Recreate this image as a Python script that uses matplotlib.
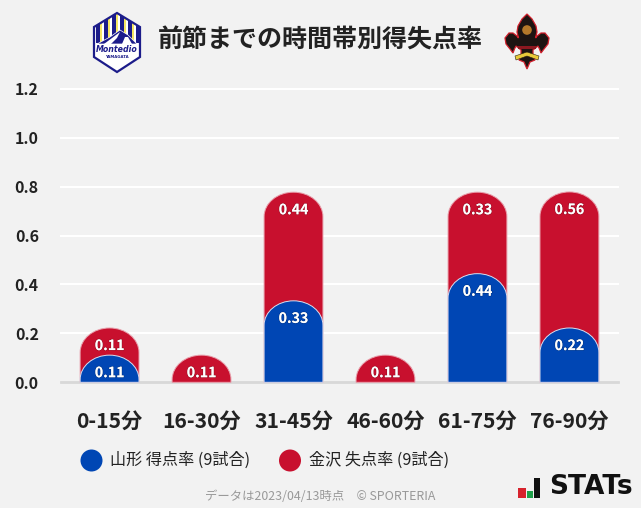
#!/usr/bin/env python3

import matplotlib
matplotlib.use('Agg')
import matplotlib.pyplot as plt
import matplotlib.patheffects as pe
from matplotlib.path import Path
from matplotlib.patches import PathPatch, Polygon, Circle, Rectangle

plt.rcParams['font.family'] = ['Noto Sans CJK JP', 'DejaVu Sans']

periods = ['0-15分', '16-30分', '31-45分', '46-60分', '61-75分', '76-90分']
yamagata_scored = [0.111, 0.0, 0.333, 0.0, 0.444, 0.222]
kanazawa_conceded = [0.111, 0.111, 0.444, 0.111, 0.333, 0.556]
y_ticks = [0.0, 0.2, 0.4, 0.6, 0.8, 1.0, 1.2]

title = '前節までの時間帯別得失点率'
legend_home = '山形 得点率 (9試合)'
legend_away = '金沢 失点率 (9試合)'
footer = 'データは2023/04/13時点\u3000© SPORTERIA'

BG = '#f2f2f2'
BLUE = '#0046b4'
RED = '#c8102e'
TEXT = '#222222'
BAR_WIDTH = 0.64
CAP = 0.10
K = 0.5523


def rounded_bar(ax, x, top, color, zorder, edge):
    # bar with an elliptical cap, in data coords
    l, r = x - BAR_WIDTH / 2, x + BAR_WIDTH / 2
    rx = BAR_WIDTH / 2
    ry = min(CAP, top)
    verts = [(l, 0), (l, top - ry),
             (l, top - ry + K * ry), (x - K * rx, top), (x, top),
             (x + K * rx, top), (r, top - ry + K * ry), (r, top - ry),
             (r, 0), (l, 0)]
    codes = [Path.MOVETO, Path.LINETO,
             Path.CURVE4, Path.CURVE4, Path.CURVE4,
             Path.CURVE4, Path.CURVE4, Path.CURVE4,
             Path.LINETO, Path.CLOSEPOLY]
    ax.add_patch(PathPatch(Path(verts, codes), facecolor=color, edgecolor=edge,
                           linewidth=0.7, zorder=zorder, clip_on=False))


def bar_label(ax, x, top, value):
    t = ax.annotate(f'{value:.2f}', (x, top), xytext=(0, -13), textcoords='offset points',
                    ha='center', va='center', fontsize=10.2, fontweight='bold',
                    color='white', zorder=6)
    t.set_path_effects([pe.withStroke(linewidth=1.0, foreground='#00000030')])


def draw_montedio(ov):
    navy = '#1c1c8a'
    hexagon = [(117, 13), (140, 27), (140, 57), (117, 72), (94, 57), (94, 27)]
    shell = Polygon(hexagon, closed=True, facecolor='white', edgecolor='none')
    ov.add_patch(shell)
    for x in range(96, 138, 8):
        for left, w, color in [(x, 3.6, navy), (x + 3.6, 2, '#f5e663')]:
            r = Rectangle((left, 13), w, 30, facecolor=color, edgecolor='none')
            ov.add_patch(r)
            r.set_clip_path(shell)
    ov.add_patch(Polygon([(97, 44), (110, 37), (120, 30), (128, 35), (137, 44)],
                         closed=True, facecolor=navy, edgecolor='white', linewidth=0.5))
    ov.add_patch(Polygon([(104, 44), (112, 38), (120, 32), (117, 38), (111, 44)],
                         closed=True, facecolor='white', edgecolor='none'))
    ov.add_patch(Polygon([(122, 44), (125, 37), (128, 37), (132, 44)],
                         closed=True, facecolor='white', edgecolor='none'))
    ov.add_patch(Polygon(hexagon, closed=True, facecolor='none', edgecolor=navy, linewidth=1.6))
    ov.text(117, 50, 'Montedio', ha='center', va='center', fontsize=5.7, fontweight='bold',
            fontstyle='italic', color=navy, family='DejaVu Sans')
    ov.text(117, 57, 'YAMAGATA', ha='center', va='center', fontsize=2.8, fontweight='bold',
            color=navy, family='DejaVu Sans')


def draw_fleur(ov):
    cx = 527
    half = [(0, 14), (5, 19), (9, 26), (10, 32), (8.5, 38), (10, 36), (14, 33), (18, 33),
            (22, 38), (21, 44), (17, 49), (14, 53), (12.5, 49), (11, 46), (6, 50), (6, 55), (8, 60),
            (3, 62), (0, 69)]
    right = [(cx + dx, y) for dx, y in half]
    left = [(cx - dx, y) for dx, y in reversed(half[1:-1])]
    ov.add_patch(Polygon(right + left, closed=True, facecolor='#1d1412', edgecolor='#d0202c', linewidth=0.9))
    ov.add_patch(Circle((cx, 30), 4.8, facecolor='#b5782a', edgecolor='none'))
    ov.add_patch(Rectangle((cx - 9, 46), 18, 2.5, facecolor='#8c1820', edgecolor='none'))
    ov.add_patch(Polygon([(515, 56), (527, 52), (539, 56), (538, 60), (527, 56), (516, 60)],
                         closed=True, facecolor='#e8c93a', edgecolor='#2a2010', linewidth=0.4))


def draw_stats(ov):
    ov.add_patch(Rectangle((518, 488), 7.5, 10, facecolor='#d7232d', edgecolor='none'))
    ov.add_patch(Rectangle((527, 491), 5.5, 7, facecolor='#1fa04a', edgecolor='none'))
    ov.add_patch(Rectangle((534, 478), 5.5, 19.5, facecolor='#111111', edgecolor='none'))
    ov.text(549.5, 487.5, 'STATs', ha='left', va='center', fontsize=19, fontweight='bold',
            color='#111111', family='DejaVu Sans')


def main():
    fig = plt.figure(figsize=(6.41, 5.08), dpi=100, facecolor=BG)
    W, H = 641, 508
    ax = fig.add_axes([61 / W, 1 - 382.3 / H, (618 - 61) / W, (382.3 - 88.7) / H], facecolor='none')

    x = list(range(len(periods)))
    for i in x:
        total = yamagata_scored[i] + kanazawa_conceded[i]
        rounded_bar(ax, i, total, RED, 3, '#e8a0ac')
        bar_label(ax, i, total, kanazawa_conceded[i])
        if yamagata_scored[i] > 0:
            rounded_bar(ax, i, yamagata_scored[i], BLUE, 4, '#d8dff0')
            bar_label(ax, i, yamagata_scored[i], yamagata_scored[i])

    ax.set_xlim(-0.528, 5.528)
    ax.set_ylim(0, 1.2)
    ax.set_yticks(y_ticks)
    ax.set_yticklabels([f'{v:.1f}' for v in y_ticks])
    ax.set_xticks(x)
    ax.set_xticklabels(periods)
    ax.tick_params(axis='y', length=0, pad=16, labelsize=11.5, labelcolor=TEXT)
    ax.tick_params(axis='x', length=0, pad=20.5, labelsize=15.2, labelcolor=TEXT)
    for lab in ax.get_yticklabels() + ax.get_xticklabels():
        lab.set_fontweight('bold')
    for s in ax.spines.values():
        s.set_visible(False)
    for v in y_ticks[1:]:
        ax.axhline(v, color='white', linewidth=1.5, zorder=1, clip_on=False)
    ax.axhline(0, color='#d8d8d8', linewidth=2, zorder=2, clip_on=False)

    # header, legend and footer in pixel coords
    ov = fig.add_axes([0, 0, 1, 1], facecolor='none')
    ov.set_xlim(0, W)
    ov.set_ylim(H, 0)
    ov.axis('off')

    ov.text(320.5, 40.5, title, ha='center', va='center', fontsize=18, fontweight='bold', color=TEXT)
    draw_montedio(ov)
    draw_fleur(ov)

    ov.add_patch(Circle((91.5, 460.5), 11, facecolor=BLUE, edgecolor='none'))
    ov.add_patch(Circle((290, 460.5), 11, facecolor=RED, edgecolor='none'))
    ov.text(110, 460.5, legend_home, ha='left', va='center', fontsize=11.6, color=TEXT)
    ov.text(309, 460.5, legend_away, ha='left', va='center', fontsize=11.6, color=TEXT)

    ov.text(320.5, 497, footer, ha='center', va='center', fontsize=8.9, color='#999999')
    draw_stats(ov)

    fig.savefig('out.png', dpi=100, facecolor=BG)
    plt.close(fig)


if __name__ == '__main__':
    main()
